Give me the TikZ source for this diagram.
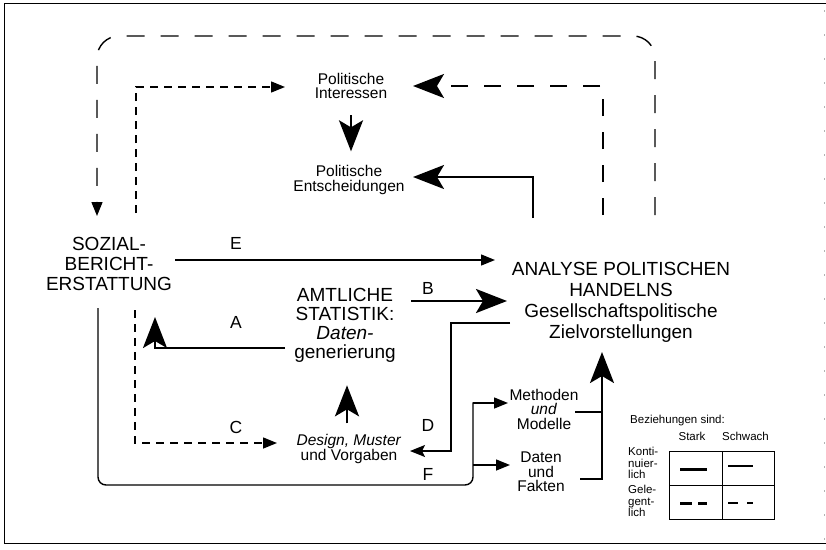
\documentclass[tikz,border=0pt]{standalone}
\usepackage{fontspec}
\setmainfont{Liberation Sans}
\usetikzlibrary{arrows.meta}

\begin{document}
\begin{tikzpicture}[x=1pt, y=-1pt,
  gross/.style={font=\fontsize{19}{20}\selectfont, align=center, inner sep=0pt},
  klein/.style={font=\fontsize{15.5}{14.5}\selectfont, align=center, inner sep=0pt},
  buchst/.style={font=\fontsize{17.5}{18}\selectfont, inner sep=0pt},
  legende/.style={font=\fontsize{11.5}{11.5}\selectfont, inner sep=0pt},
  stark/.style={line width=2.4pt},
  schwach/.style={line width=1.4pt},
  lang/.style={dash pattern=on 18pt off 16pt},
  mittel/.style={dash pattern=on 17pt off 16pt},
  kurz/.style={dash pattern=on 8pt off 6pt},
  spitze/.style={-{Stealth[length=31pt, width=24pt, inset=7pt]}},
  dreieck/.style={-{Triangle[length=14pt, width=11pt]}},
  klspitze/.style={-{Stealth[length=15pt, width=12pt, inset=3pt]}}]
  \useasboundingbox (0,0) rectangle (826,549);
  % Rahmen
  \draw[line width=1pt] (826,3) -- (4,3) -- (4,543) -- (826,543);
  \draw[gray!60, line width=0.8pt, dash pattern=on 2pt off 22pt] (824,10) -- (824,540);

  % Texte
  \node[gross] (sozial) at (109,264) {SOZIAL-\\BERICHT-\\ERSTATTUNG};
  \node[gross, font=\fontsize{19}{21}\selectfont] (analyse) at (621,302)
    {ANALYSE POLITISCHEN\\HANDELNS\\Gesellschaftspolitische\\Zielvorstellungen};
  \node[gross, font=\fontsize{19}{19}\selectfont] (amtlich) at (345,325)
    {AMTLICHE\\STATISTIK:\\\textit{Daten-}\\generierung};
  \node[klein] (interessen) at (351,86) {Politische\\Interessen};
  \node[klein] (entscheid) at (349,180) {Politische\\Entscheidungen};
  \node[klein] (design) at (349,449) {\textit{Design, Muster}\\und Vorgaben};
  \node[klein] (methoden) at (544,409) {Methoden\\\textit{und}\\Modelle};
  \node[klein] (fakten) at (541,472) {Daten\\und\\Fakten};
  \foreach \b/\x/\y in {E/236/243, A/236/322, C/236/427, B/428/288, D/428/425, F/428/474}
    \node[buchst] (l\b) at (\x,\y) {\b};

  % Rueckkopplungen (gelegentlich)
  \coordinate (rueckA) at (655,215); \coordinate (rueckS) at (97,216);
  \draw[schwach, lang, dreieck, rounded corners=22pt] (rueckA) -- (655,36) -- (97,36) -- (rueckS);
  \coordinate (interA) at (603,215); \coordinate (interI) at (413,86);
  \draw[line width=2pt, mittel, spitze] (interA) -- (603,86) -- (interI);
  \coordinate (sozI) at (136,213); \coordinate (sozIE) at (285,87);
  \draw[schwach, kurz, dreieck] (sozI) -- (136,87) -- (sozIE);
  \coordinate (sozC) at (135,310); \coordinate (designC) at (277,443);
  \draw[schwach, kurz, dreieck] (sozC) -- (135,443) -- (designC);

  % Beziehungen (kontinuierlich)
  \draw[stark, spitze, shorten <=16pt, shorten >=14pt] (interessen.south) -- (interessen.south |- entscheid.north);
  \coordinate (analyseP) at (533,218); \coordinate (entscheidA) at (413,177);
  \draw[line width=2.2pt, spitze] (analyseP) -- (533,177) -- (entscheidA);
  \coordinate (sozE) at (175,260); \coordinate (analyseE) at (495,260);
  \draw[schwach, dreieck] (sozE) -- (analyseE);
  \coordinate (amtB) at (411,301); \coordinate (analyseB) at (507,301);
  \draw[line width=2.8pt, spitze] (amtB) -- (analyseB);
  \coordinate (analyseD) at (510,323); \coordinate (designD) at (410,451);
  \draw[schwach, klspitze] (analyseD) -- (451,323) -- (451,451) -- (designD);
  \coordinate (amtA) at (285,348); \coordinate (sozA) at (155,317);
  \draw[line width=2.1pt, spitze] (amtA) -- (155,348) -- (sozA);
  \coordinate (hoch) at (347,0);
  \draw[stark, spitze, shorten <=11pt, shorten >=23pt] (design.north -| hoch) -- (amtlich.south -| hoch);
  \coordinate (sozF) at (98,308); \coordinate (gabel) at (473,403);
  \draw[schwach, rounded corners=8pt] (sozF) -- (98,485) -- (473,485) -- ([yshift=0.7pt]gabel);
  \draw[schwach, dreieck] (gabel) -- (508,403);
  \draw[schwach, dreieck] (473,465) -- (510,465);
  \coordinate (klammer) at (602,479); \coordinate (analyseZ) at (602,352);
  \draw[line width=1.8pt] (575,412) -- (602,412);
  \draw[line width=2.2pt, spitze] (580,479) -- (klammer) -- (analyseZ);

  % Legende
  \node[legende, anchor=base west] (bez) at (630,423) {Beziehungen sind:};
  \node[legende, anchor=base] (stark) at (692,440) {Stark};
  \node[legende, anchor=base] (schwach) at (745.5,440) {Schwach};
  \node[legende, align=left, anchor=west] (konti) at (628,463) {Konti-\\nuier-\\lich};
  \node[legende, align=left, anchor=west] (gele) at (628,501) {Gele-\\gent-\\lich};
  \draw[line width=1pt] (669,451) rectangle (774,519) (722,451) -- (722,519) (669,485) -- (774,485);
  \draw[line width=3pt] (680,469) -- (707,469);
  \draw[line width=1.3pt] (728,466) -- (753,466);
  \draw[line width=3pt, dash pattern=on 12pt off 6pt] (680,503) -- (707,503);
  \draw[line width=1.3pt, dash pattern=on 10pt off 9pt] (728,503) -- (753,503);
\end{tikzpicture}
\end{document}
